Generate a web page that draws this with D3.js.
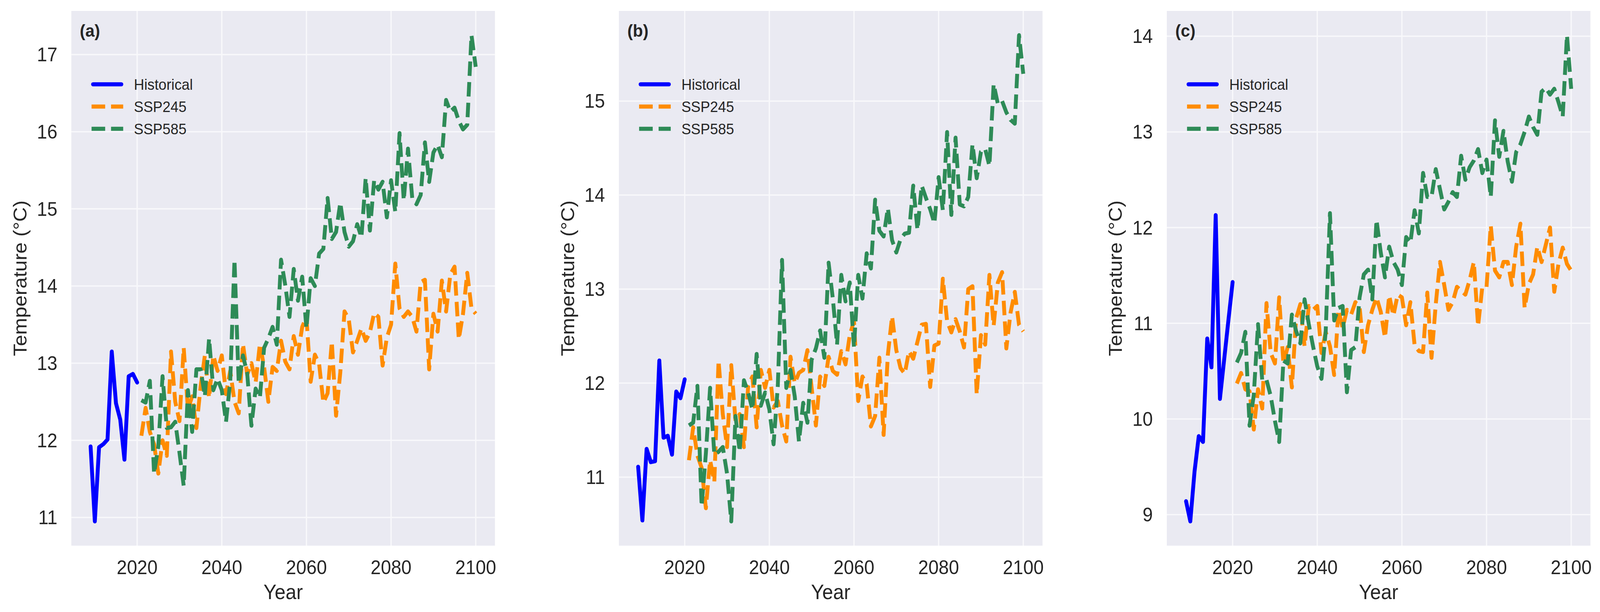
<!DOCTYPE html>
<html>
<head>
<meta charset="utf-8">
<script src="https://cdn.jsdelivr.net/npm/d3@7"></script>
<style>
  html, body { margin: 0; padding: 0; overflow: hidden; background: #fff; }
  #chart { display: block; width: 100vw; height: 100vh; }
  text { font-family: "Liberation Sans", Arial, Helvetica, sans-serif; fill: #262626; }
</style>
</head>
<body>
<svg id="chart" viewBox="0 0 4351 1568" preserveAspectRatio="none"></svg>
<script>
// ---- data ----
var histYears = [2009, 2010, 2011, 2012, 2013, 2014, 2015, 2016, 2017, 2018, 2019, 2020];

var scenYears = [2021, 2022, 2023, 2024, 2025, 2026, 2027, 2028, 2029, 2030,
  2031, 2032, 2033, 2034, 2035, 2036, 2037, 2038, 2039, 2040,
  2041, 2042, 2043, 2044, 2045, 2046, 2047, 2048, 2049, 2050,
  2051, 2052, 2053, 2054, 2055, 2056, 2057, 2058, 2059, 2060,
  2061, 2062, 2063, 2064, 2065, 2066, 2067, 2068, 2069, 2070,
  2071, 2072, 2073, 2074, 2075, 2076, 2077, 2078, 2079, 2080,
  2081, 2082, 2083, 2084, 2085, 2086, 2087, 2088, 2089, 2090,
  2091, 2092, 2093, 2094, 2095, 2096, 2097, 2098, 2099, 2100];

var xTicks = [2020, 2040, 2060, 2080, 2100];

// panel (a)
var histA = [11.92, 10.95, 11.91, 11.95, 12.01, 13.15, 12.48, 12.27, 11.75, 12.83, 12.86, 12.75];
var ssp245A = [12.06, 12.42, 12.11, 11.95, 11.57, 12.00, 11.80, 13.15, 12.50, 12.25,
  13.20, 12.40, 12.57, 12.16, 12.70, 13.10, 12.55, 13.10, 12.90, 13.10,
  12.60, 12.90, 12.50, 12.35, 13.25, 12.85, 13.00, 12.75, 13.25, 12.95,
  12.50, 12.95, 12.90, 13.29, 13.02, 12.92, 13.35, 13.11, 13.47, 13.60,
  12.76, 13.11, 12.99, 12.49, 12.61, 13.28, 12.32, 12.88, 13.67, 13.57,
  13.14, 13.29, 13.45, 13.29, 13.40, 13.65, 13.60, 12.97, 13.33, 13.50,
  14.29, 13.71, 13.60, 13.67, 13.60, 13.41, 14.05, 14.08, 12.92, 13.64,
  13.41, 14.07, 13.67, 14.15, 14.25, 13.31, 13.64, 14.17, 13.71, 13.64];
var ssp585A = [12.52, 12.49, 12.77, 11.57, 11.92, 12.83, 12.16, 12.17, 12.24, 11.84,
  11.41, 12.65, 12.11, 12.92, 12.92, 12.57, 13.32, 12.65, 12.80, 12.65,
  12.24, 12.77, 14.34, 12.74, 13.10, 12.87, 12.19, 12.67, 12.55, 13.20,
  13.32, 13.47, 13.24, 14.34, 14.01, 13.60, 14.22, 13.81, 14.12, 13.45,
  14.10, 14.00, 14.42, 14.48, 15.14, 14.61, 14.70, 15.08, 14.70, 14.51,
  14.58, 14.80, 14.63, 15.40, 14.72, 15.37, 15.25, 15.35, 14.89, 15.37,
  14.96, 15.98, 15.11, 15.78, 15.14, 15.06, 15.18, 15.86, 15.35, 15.73,
  15.83, 15.67, 16.41, 16.26, 16.31, 16.14, 16.03, 16.09, 17.25, 16.84];
var yTicksA = [11, 12, 13, 14, 15, 16, 17];

// panel (b)
var histB = [11.11, 10.54, 11.30, 11.16, 11.17, 12.24, 11.42, 11.44, 11.24, 11.91, 11.84, 12.04];
var ssp245B = [11.18, 11.53, 11.23, 11.10, 10.67, 11.18, 10.95, 12.24, 11.67, 11.32,
  12.19, 11.60, 11.67, 11.32, 11.97, 12.07, 11.53, 12.14, 11.95, 12.14,
  11.74, 11.81, 11.55, 11.38, 12.28, 12.00, 12.11, 12.14, 12.35, 11.95,
  11.55, 12.07, 11.97, 12.28, 12.13, 12.09, 12.34, 12.20, 12.51, 12.66,
  11.81, 12.07, 11.99, 11.54, 11.65, 12.27, 11.45, 12.30, 12.71, 12.35,
  12.16, 12.10, 12.34, 12.26, 12.44, 12.62, 12.63, 11.96, 12.40, 12.42,
  13.11, 12.66, 12.54, 12.68, 12.55, 12.38, 13.00, 13.03, 11.88, 12.51,
  12.41, 13.15, 12.61, 13.07, 13.18, 12.37, 12.75, 12.97, 12.62, 12.55];
var ssp585B = [11.55, 11.58, 11.97, 10.69, 11.25, 11.95, 11.24, 11.27, 11.32, 11.04,
  10.53, 11.65, 11.27, 12.03, 11.90, 11.72, 12.31, 11.76, 11.90, 11.72,
  11.35, 11.97, 13.31, 11.95, 12.14, 11.86, 11.38, 11.79, 11.58, 12.25,
  12.37, 12.56, 12.27, 13.28, 12.90, 12.41, 13.15, 12.87, 13.07, 12.38,
  13.15, 12.90, 13.38, 13.22, 13.95, 13.62, 13.56, 13.86, 13.52, 13.39,
  13.53, 13.59, 13.60, 14.10, 13.63, 14.10, 13.97, 13.85, 13.70, 14.19,
  13.84, 14.67, 13.79, 14.61, 13.90, 13.88, 13.98, 14.54, 14.18, 14.46,
  14.49, 14.31, 15.18, 14.97, 15.00, 14.88, 14.80, 14.76, 15.70, 15.29];
var yTicksB = [11, 12, 13, 14, 15];

// panel (c)
var histC = [9.14, 8.93, 9.45, 9.82, 9.76, 10.84, 10.54, 12.13, 10.21, 10.62, 11.03, 11.43];
var ssp245C = [10.37, 10.48, 10.31, 10.29, 9.89, 10.31, 10.11, 11.21, 10.69, 10.58,
  11.27, 10.58, 10.75, 10.33, 11.05, 11.20, 10.76, 11.18, 11.14, 11.18,
  10.69, 10.91, 10.76, 10.46, 11.14, 10.95, 11.14, 11.09, 11.22, 11.17,
  10.70, 10.98, 11.14, 11.27, 11.12, 10.85, 11.29, 11.08, 11.30, 11.27,
  10.98, 11.22, 10.77, 10.71, 10.70, 11.32, 10.64, 11.20, 11.64, 11.40,
  11.14, 11.22, 11.38, 11.34, 11.30, 11.45, 11.64, 10.97, 11.38, 11.38,
  12.02, 11.55, 11.48, 11.64, 11.64, 11.40, 11.80, 12.04, 11.16, 11.41,
  11.51, 11.80, 11.64, 11.82, 12.00, 11.33, 11.62, 11.79, 11.62, 11.55];
var ssp585C = [10.59, 10.69, 10.91, 9.93, 10.25, 10.99, 10.40, 10.41, 10.24, 9.98,
  9.76, 10.61, 10.58, 11.09, 10.92, 10.79, 11.25, 10.99, 10.76, 10.55,
  10.42, 10.92, 12.15, 11.03, 11.16, 11.18, 10.28, 10.72, 10.75, 11.27,
  11.51, 11.56, 11.25, 12.08, 11.74, 11.48, 11.80, 11.64, 11.56, 11.40,
  11.90, 11.84, 12.18, 11.94, 12.57, 12.32, 12.32, 12.61, 12.40, 12.19,
  12.27, 12.37, 12.32, 12.75, 12.50, 12.63, 12.70, 12.82, 12.57, 12.71,
  12.32, 13.12, 12.74, 13.01, 12.69, 12.48, 12.79, 12.87, 13.00, 13.16,
  13.05, 12.97, 13.42, 13.46, 13.39, 13.45, 13.31, 13.16, 14.01, 13.45];
var yTicksC = [9, 10, 11, 12, 13, 14];

var panelLabels = ["(a)", "(b)", "(c)"];
var seriesNames = ["Historical", "SSP245", "SSP585"];
var seriesColors = ["#0000ff", "#ff8c00", "#2e8b57"];

// ---- layout (in reference pixels, the viewBox scales it to the window) ----
var panelLeft = [194, 1683, 3173];
var plotW = 1152, plotTop = 28, plotH = 1370;
var lineW = 10.5;
var dash = "37,16";

var panels = [
  { hist: histA, s245: ssp245A, s585: ssp585A, yTicks: yTicksA },
  { hist: histB, s245: ssp245B, s585: ssp585B, yTicks: yTicksB },
  { hist: histC, s245: ssp245C, s585: ssp585C, yTicks: yTicksC }
];

var svg = d3.select("#chart");
svg.append("rect").attr("width", 4351).attr("height", 1568).attr("fill", "#ffffff");

function zip(years, vals) {
  return years.map(function(yr, i) { return { year: yr, value: vals[i] }; });
}

panels.forEach(function(p, pi) {
  // matplotlib-like 5% margins
  var xMin = histYears[0], xMax = scenYears[scenYears.length - 1];
  var xPad = (xMax - xMin) * 0.05;
  var x = d3.scaleLinear().domain([xMin - xPad, xMax + xPad]).range([0, plotW]);

  var all = p.hist.concat(p.s245, p.s585);
  var ext = d3.extent(all);
  var yPad = (ext[1] - ext[0]) * 0.05;
  var y = d3.scaleLinear().domain([ext[0] - yPad, ext[1] + yPad]).range([plotH, 0]);

  var g = svg.append("g")
      .attr("transform", "translate(" + panelLeft[pi] + "," + plotTop + ")");

  g.append("rect")
      .attr("width", plotW)
      .attr("height", plotH)
      .attr("fill", "#eaeaf2");

  // grid
  g.selectAll(".xgrid").data(xTicks).enter().append("line")
      .attr("x1", function(d) { return x(d); })
      .attr("x2", function(d) { return x(d); })
      .attr("y1", 0).attr("y2", plotH)
      .attr("stroke", "#f8f8fb").attr("stroke-width", 3.5);

  g.selectAll(".ygrid").data(p.yTicks).enter().append("line")
      .attr("x1", 0).attr("x2", plotW)
      .attr("y1", function(d) { return y(d); })
      .attr("y2", function(d) { return y(d); })
      .attr("stroke", "#f8f8fb").attr("stroke-width", 3.5);

  // tick labels
  g.selectAll(".xtick").data(xTicks).enter().append("text")
      .attr("x", function(d) { return x(d); })
      .attr("y", plotH + 73)
      .attr("text-anchor", "middle")
      .attr("font-size", 50)
      .text(function(d) { return d; });

  g.selectAll(".ytick").data(p.yTicks).enter().append("text")
      .attr("x", -38)
      .attr("y", function(d) { return y(d); })
      .attr("dy", "0.35em")
      .attr("text-anchor", "end")
      .attr("font-size", 50)
      .text(function(d) { return d; });

  // axis titles
  g.append("text")
      .attr("x", plotW / 2)
      .attr("y", plotH + 137)
      .attr("text-anchor", "middle")
      .attr("font-size", 53)
      .text("Year");

  g.append("text")
      .attr("transform", "translate(" + (-140) + "," + (plotH / 2) + ") rotate(-90)")
      .attr("text-anchor", "middle")
      .attr("dy", "0.35em")
      .attr("font-size", 52)
      .text("Temperature (°C)");

  // series
  var line = d3.line()
      .x(function(d) { return x(d.year); })
      .y(function(d) { return y(d.value); });

  g.append("path")
      .datum(zip(histYears, p.hist))
      .attr("d", line)
      .attr("fill", "none")
      .attr("stroke", seriesColors[0])
      .attr("stroke-width", lineW)
      .attr("stroke-linejoin", "round")
      .attr("stroke-linecap", "round");

  [p.s245, p.s585].forEach(function(vals, si) {
    g.append("path")
        .datum(zip(scenYears, vals))
        .attr("d", line)
        .attr("fill", "none")
        .attr("stroke", seriesColors[si + 1])
        .attr("stroke-width", lineW)
        .attr("stroke-dasharray", dash)
        .attr("stroke-linejoin", "round")
        .attr("stroke-linecap", "butt");
  });

  // panel label
  g.append("text")
      .attr("x", 23)
      .attr("y", 66)
      .attr("font-size", 45)
      .attr("font-weight", "bold")
      .text(panelLabels[pi]);

  // legend
  var legendRows = [188, 245, 302];
  var leg = g.selectAll(".legend").data(seriesNames).enter().append("g")
      .attr("transform", function(d, i) { return "translate(0," + legendRows[i] + ")"; });

  leg.append("line")
      .attr("x1", function(d, i) { return i === 0 ? 59 : 55; })
      .attr("x2", function(d, i) { return i === 0 ? 136 : 141; })
      .attr("y1", 0).attr("y2", 0)
      .attr("stroke", function(d, i) { return seriesColors[i]; })
      .attr("stroke-width", lineW)
      .attr("stroke-linecap", function(d, i) { return i === 0 ? "round" : "butt"; })
      .attr("stroke-dasharray", function(d, i) { return i === 0 ? null : dash; });

  leg.append("text")
      .attr("x", 170)
      .attr("y", 0)
      .attr("dy", "0.35em")
      .attr("font-size", 39)
      .text(function(d) { return d; });
});
</script>
</body>
</html>
